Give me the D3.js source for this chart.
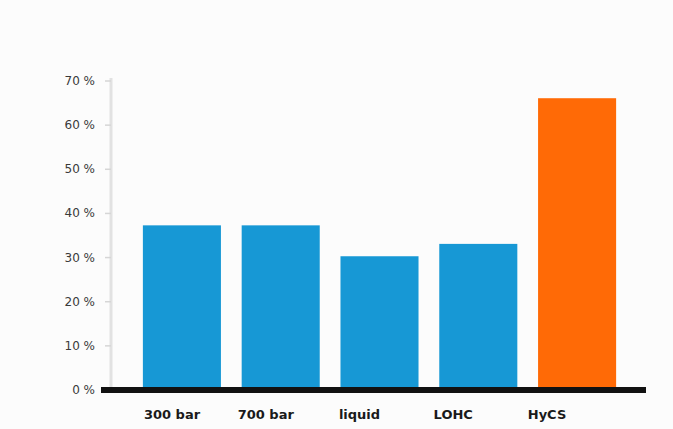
<!DOCTYPE html>
<html>
<head>
<meta charset="utf-8">
<script src="https://d3js.org/d3.v7.min.js"></script>
<style>
  body { margin: 0; background: #fcfcfc; }
  .ylab { font-family: "DejaVu Sans", sans-serif; font-size: 12px; fill: #3a3a3a; }
  .xlab { font-family: "DejaVu Sans", sans-serif; font-size: 13px; font-weight: bold; fill: #1a1a1a; }
</style>
</head>
<body>
<div id="chart"></div>
<script>

// data
var categories = ["300 bar", "700 bar", "liquid", "LOHC", "HyCS"];
var values = [37.3, 37.3, 30.3, 33.1, 66.1];
var barColors = ["#1798d5", "#1798d5", "#1798d5", "#1798d5", "#ff6a06"];
var yTicks = [0, 10, 20, 30, 40, 50, 60, 70];

var width = 673, height = 429;

var svg = d3.select("#chart")
            .append("svg")
              .attr("width", width)
              .attr("height", height);

svg.append("rect")
    .attr("width", width)
    .attr("height", height)
    .attr("fill", "#fcfcfc");

// scales
var x_scale = d3.scaleBand()
                .domain(categories)
                .range([133, 626])
                .paddingInner(0.21)
                .paddingOuter(0.1);

// labels sit a bit left of the bar centres in the original
var label_scale = d3.scalePoint()
                    .domain(categories)
                    .range([172, 547]);

var y_scale = d3.scaleLinear()
                .domain([0, 70])
                .range([390, 81]);

// light vertical axis with small ticks
svg.append("line")
    .attr("x1", 111).attr("x2", 111)
    .attr("y1", y_scale(70) - 3).attr("y2", y_scale(0))
    .attr("stroke", "#e2e2e2")
    .attr("stroke-width", 3);

svg.selectAll(".ytick")
    .data(yTicks)
    .enter()
    .append("line")
      .attr("class", "ytick")
      .attr("x1", 105).attr("x2", 111)
      .attr("y1", function(d) { return y_scale(d); })
      .attr("y2", function(d) { return y_scale(d); })
      .attr("stroke", "#d6d6d6")
      .attr("stroke-width", 1.5);

svg.selectAll(".ylab")
    .data(yTicks)
    .enter()
    .append("text")
      .attr("class", "ylab")
      .attr("x", 95)
      .attr("y", function(d) { return y_scale(d) + 4; })
      .attr("text-anchor", "end")
      .text(function(d) { return d + " %"; });

// bars
svg.selectAll(".bar")
    .data(categories)
    .enter()
    .append("rect")
      .attr("class", "bar")
      .attr("x", function(d) { return x_scale(d); })
      .attr("y", function(d, i) { return y_scale(values[i]); })
      .attr("width", x_scale.bandwidth())
      .attr("height", function(d, i) { return y_scale(0) - y_scale(values[i]); })
      .attr("fill", function(d, i) { return barColors[i]; });

// thick black baseline
svg.append("line")
    .attr("x1", 101).attr("x2", 646)
    .attr("y1", y_scale(0)).attr("y2", y_scale(0))
    .attr("stroke", "#111")
    .attr("stroke-width", 6);

// category labels
svg.selectAll(".xlab")
    .data(categories)
    .enter()
    .append("text")
      .attr("class", "xlab")
      .attr("x", function(d) { return label_scale(d); })
      .attr("y", 419)
      .attr("text-anchor", "middle")
      .text(function(d) { return d; });

</script>
</body>
</html>
